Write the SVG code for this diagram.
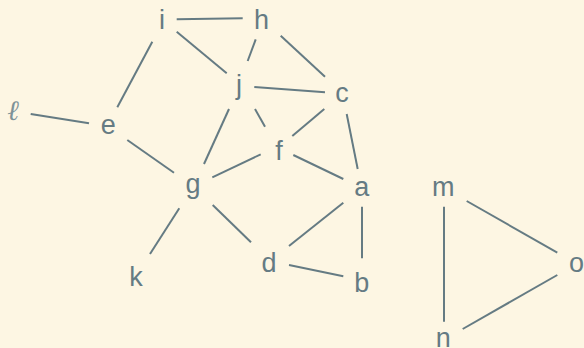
<svg xmlns="http://www.w3.org/2000/svg" width="584" height="348" viewBox="0 0 584 348">
<style>
.bg{fill:#fdf6e3}
.e{stroke:#657b83;stroke-width:2;fill:none}
.t{font-family:"Liberation Sans",Arial,sans-serif;font-size:27px;fill:#657b83;text-anchor:middle}
.ell{font-family:"Liberation Serif","DejaVu Serif",serif;font-size:28px;font-style:italic;fill:#7d9298;text-anchor:middle}
</style>
<rect class="bg" x="0" y="0" width="584" height="348"/>
<g id="edges" class="e">
<line x1="176.7" y1="19.3" x2="242.7" y2="18.3"/>
<line x1="176.7" y1="31.7" x2="226.7" y2="73.3"/>
<line x1="152.3" y1="41.7" x2="117.3" y2="107.3"/>
<line x1="255.7" y1="39.3" x2="247.7" y2="61"/>
<line x1="280.7" y1="35.7" x2="325" y2="76.7"/>
<line x1="254.3" y1="87" x2="325" y2="92.3"/>
<line x1="255" y1="109" x2="265" y2="126.7"/>
<line x1="229" y1="109" x2="204" y2="164"/>
<line x1="324.3" y1="109" x2="292.3" y2="136"/>
<line x1="346.7" y1="114" x2="357.7" y2="169"/>
<line x1="30.7" y1="114" x2="89" y2="123.3"/>
<line x1="127.3" y1="140" x2="174" y2="172.7"/>
<line x1="260.7" y1="154.3" x2="212.3" y2="177.3"/>
<line x1="293.3" y1="155" x2="343.3" y2="179"/>
<line x1="179.3" y1="208.3" x2="150" y2="254"/>
<line x1="212.7" y1="205" x2="251" y2="242.3"/>
<line x1="343.3" y1="202.7" x2="289" y2="246"/>
<line x1="362" y1="206.7" x2="362" y2="258.3"/>
<line x1="289" y1="265" x2="343.3" y2="276.3"/>
<line x1="444" y1="206.7" x2="444" y2="321.7"/>
<line x1="466.7" y1="201" x2="557.3" y2="252.7"/>
<line x1="462.7" y1="329" x2="557.3" y2="275"/>
</g>
<g id="node-i"><text class="t" x="162" y="29">i</text></g>
<g id="node-h"><text class="t" x="261.5" y="29">h</text></g>
<g id="node-j"><text class="t" x="239" y="94">j</text></g>
<g id="node-c"><text class="t" x="342" y="102">c</text></g>
<g id="node-l"><text class="ell" x="13" y="120">ℓ</text></g>
<g id="node-e"><text class="t" x="108.3" y="134">e</text></g>
<g id="node-f"><text class="t" x="279" y="160">f</text></g>
<g id="node-g"><text class="t" x="193" y="193">g</text></g>
<g id="node-a"><text class="t" x="361.7" y="195.7">a</text></g>
<g id="node-m"><text class="t" x="443.3" y="195.7">m</text></g>
<g id="node-k"><text class="t" x="136" y="285.7">k</text></g>
<g id="node-d"><text class="t" x="269" y="272.3">d</text></g>
<g id="node-b"><text class="t" x="361.7" y="291.7">b</text></g>
<g id="node-o"><text class="t" x="576.5" y="271.7">o</text></g>
<g id="node-n"><text class="t" x="443.3" y="347">n</text></g>
</svg>
